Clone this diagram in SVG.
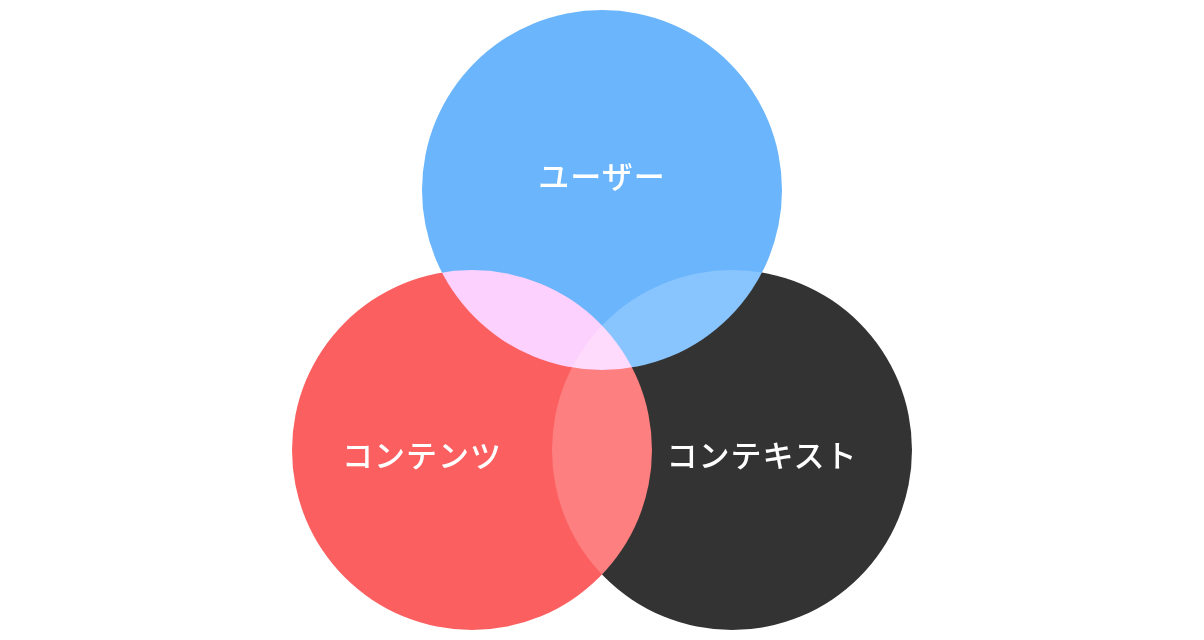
<svg xmlns="http://www.w3.org/2000/svg" width="1204" height="640" viewBox="0 0 1204 640">
<style>
.c{mix-blend-mode:screen}
.t{font-family:"Noto Sans CJK JP","Noto Sans",sans-serif;font-size:31px;font-weight:500;fill:#ffffff;text-anchor:middle;letter-spacing:1px}
</style>
<rect width="1204" height="640" fill="#ffffff"/>
<g style="isolation:isolate">
<g id="content"><circle class="c" cx="472" cy="450" r="180" fill="#fc5f5f"/></g>
<g id="context"><circle class="c" cx="732" cy="450" r="180" fill="#333333"/></g>
<g id="user"><circle class="c" cx="602" cy="190" r="180" fill="#6ab5fc"/></g>
</g>
<g id="connectors"></g>
<g id="labels">
<text class="t" x="602" y="188">ユーザー</text>
<text class="t" x="422" y="467">コンテンツ</text>
<text class="t" x="762" y="467">コンテキスト</text>
</g>
</svg>
